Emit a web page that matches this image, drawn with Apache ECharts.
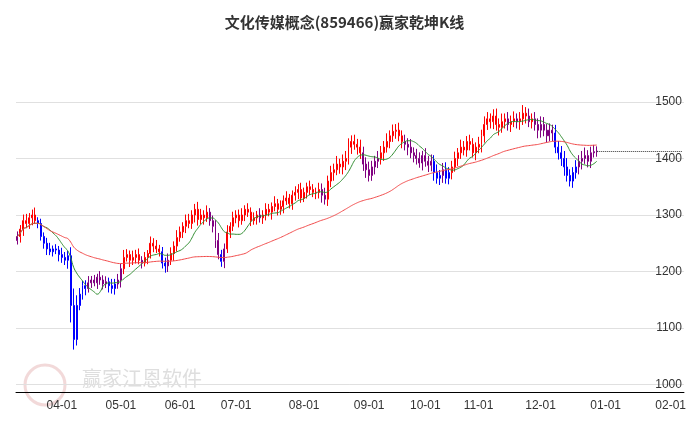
<!DOCTYPE html>
<html><head><meta charset="utf-8">
<script src="https://cdn.jsdelivr.net/npm/echarts@6/dist/echarts.min.js"></script>
<style>html,body{margin:0;padding:0;background:#fff}#c{width:689px;height:427px}</style>
</head><body><div id="c"></div>
<script>
const titleText = '文化传媒概念(859466)赢家乾坤K线';
const closes = [1262,1275,1290,1285,1295, 1300,1290,1285, 1262,1250,1240, 1235,1240,1238, 1230,1225,1220,1228, 1140,1080, 1140,
 1160,1175,1170,1180,1185, 1180,1190,1185,1178,1182,1175,1170,1178,1185, 1205,1225,1230,1220,
 1225,1230,1220,1215,1225,1232,1250,1245,1240,1235, 1215,1210,1220,1232, 1245,1260,1270,1280,1290,1285,
 1300,1310,1292,1300,1295,1305,1290,1280, 1255,1230,1218,1240, 1270,1280,1295,1300,1290,1300,1310,1305,1290,1295,
 1300,1295,1300,1310,1305,1315,1320,1310,1315,1325, 1330,1320,1335,1340,1345,1330,1340,1350,1345,1340,
 1340,1345,1335,1328,1360,1375, 1380,1390,1385,1395,1400,1420,1430,1425,1420, 1410,1390,1380,1370,1385,1395,1400,1410,
 1420,1430,1440,1448,1450,1440,1430, 1425,1420,1410,1405,1400,1392,1405,
 1395,1388,1395,1375,1365,1370,1380,1365,1375,1385,1400,1410,1420,1415,1430,1425,1410,1420,
 1425,1440,1460,1470,1465,1475,1460,1455,1465,1470,1460,1465,1470,1465,1470,1480,1475,1465,1470,1460,1450,
 1460,1450,1440,1450,1445,1420,1410,1400,1385,1370,1360,1375,1385,1395,1400,1405,1395,1410,1412,1413];
const wicks = [15,12,18,20,14,16,22,10,14,12,16,18,10,14,12,20,16,14,25,50,
 30,18,14,16,20,12,15,10,18,14,16,12,20,15,18,14,22,16,12,20,
 14,18,12,16,10,20,15,18,12,14,16,20,18,14,22,16,12,18,20,14,
 16,22,18,14,20,12,15,18,22,14,16,20,12,18,14,16,20,12,18,14,
 16,12,20,14,18,16,12,22,14,18,16,20,12,14,18,16,20,14,12,18,
 16,14,20,18,22,16,20,18,24,16,20,22,26,18,20,16,22,18,20,24,
 18,16,22,20,18,24,16,20,18,22,16,20,18,24,16,20,18,14,22,16,
 20,18,24,16,20,22,16,18,20,14,22,18,16,20,18,14,22,18,24,20,
 16,20,22,18,24,16,20,18,22,16,20,24,18,22,16,20,18,24,22,18,
 20,16,24,18,20,22,26,18,16,20,18,22,24,16,18,20,14];
const firstOpen = 1255;
const lastPrice = 1413;
const holidays = ['2024-04-04','2024-04-05','2024-05-01','2024-05-02','2024-05-03','2024-06-10','2024-09-16','2024-09-17',
 '2024-10-01','2024-10-02','2024-10-03','2024-10-04','2024-10-07','2025-01-01'];
const startDate = '2024-03-11', endDate = '2025-02-07';

const cats = [];
{
  let d = new Date(startDate + 'T00:00:00Z'); const e = new Date(endDate + 'T00:00:00Z');
  while (d <= e) {
    const s = d.toISOString().slice(0,10), wd = d.getUTCDay();
    if (wd !== 0 && wd !== 6 && !holidays.includes(s)) cats.push(s);
    d = new Date(d.getTime() + 86400000);
  }
}
const monthStart = new Set();
cats.forEach((c,i)=>{ if (i>0 && c.slice(5,7)!==cats[i-1].slice(5,7)) monthStart.add(i); });

function ma(n){ return closes.map((_,i)=>{ const s=Math.max(0,i-n+1); let t=0; for(let k=s;k<=i;k++) t+=closes[k]; return +(t/(i-s+1)).toFixed(2); }); }
const ma10 = ma(10), ma60 = ma(60);
const kdata = closes.map((c,i)=>{
  const o = i===0 ? firstOpen : closes[i-1];
  const hi = Math.max(o,c) + wicks[i]*0.6, lo = Math.min(o,c) - wicks[(i+1)%wicks.length]*0.6;
  const col = (c>ma10[i] && c>ma60[i]) ? '#ff0000' : (c<ma10[i] && c<ma60[i]) ? '#0000ff' : '#800080';
  return {value:[o,c,lo,hi], itemStyle:{color:col,color0:col,borderColor:col,borderColor0:col}};
});

const chart = echarts.init(document.getElementById('c'));
chart.setOption({
  animation:false,
  title:{text:titleText,left:'center',top:10,textStyle:{fontSize:15,fontWeight:'bold',color:'#333',fontFamily:'Noto Sans CJK SC'}},
  graphic:[{type:'text',left:82,top:368,style:{text:'赢家江恩软件',fontSize:20,fill:'rgba(200,200,200,0.6)',fontFamily:'Noto Sans CJK SC'}},
           {type:'circle',shape:{cx:45,cy:385,r:20},style:{fill:'none',stroke:'rgba(230,180,180,0.5)',lineWidth:3}}],
  grid:{left:16,right:3,top:51,bottom:35},
  xAxis:{type:'category',data:cats,boundaryGap:true,
    axisLine:{lineStyle:{color:'#000'}},
    axisTick:{interval:(i)=>monthStart.has(i),length:5,lineStyle:{color:'#000'}},
    axisLabel:{interval:(i)=>monthStart.has(i),formatter:(v)=>v.slice(5,7)+'-01',color:'#333',fontSize:12,margin:8},
    splitLine:{show:false}},
  yAxis:{type:'value',position:'right',min:987,max:1590,splitNumber:6,
    axisLine:{show:false},axisTick:{show:false},
    axisLabel:{inside:true,margin:2,color:'#333',fontSize:12,verticalAlign:'middle',showMaxLabel:false,formatter:(v)=>v%100===0?v:''},
    splitLine:{showMaxLine:false,showMinLine:false,lineStyle:{color:'#e0e0e0'}}},
  series:[
    {type:'candlestick',data:kdata,barMaxWidth:3,
      markLine:{symbol:'none',silent:true,label:{show:false},lineStyle:{color:'#333',type:'dotted',width:1},
        data:[[{coord:[closes.length-1,lastPrice]},{coord:[cats.length-1,lastPrice]}]]}},
    {type:'line',data:ma10,smooth:true,showSymbol:false,lineStyle:{color:'#2e8b2e',width:1}},
    {type:'line',data:ma60,smooth:true,showSymbol:false,lineStyle:{color:'#f04848',width:1}}
  ]
});
</script></body></html>
